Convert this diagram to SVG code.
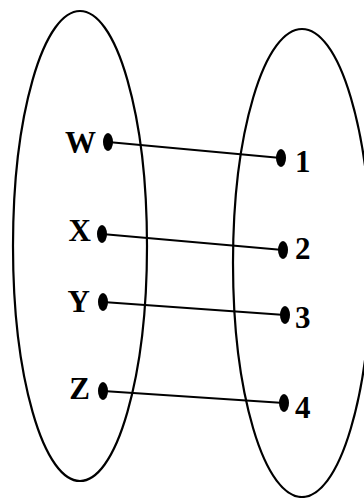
<svg xmlns="http://www.w3.org/2000/svg" width="364" height="498" viewBox="0 0 364 498">
<style>
.set{fill:none;stroke:#000;stroke-width:2.2}
.dot{fill:#000}
.lbl{font-family:"Liberation Serif","Times New Roman",serif;font-weight:bold;font-size:31px;fill:#000}
.edge{stroke:#000;stroke-width:2;fill:none}
</style>
<rect width="364" height="498" fill="#fff"/>
<g id="domain"><ellipse class="set" cx="80" cy="246" rx="67" ry="235"/></g>
<g id="codomain"><ellipse class="set" cx="302" cy="263" rx="69" ry="234"/></g>
<g id="connectors">
<line class="edge" x1="108" y1="142" x2="281" y2="158"/>
<line class="edge" x1="102" y1="234" x2="283" y2="250"/>
<line class="edge" x1="103" y1="302" x2="285" y2="315"/>
<line class="edge" x1="103" y1="391" x2="284" y2="403"/>
</g>
<g id="W"><ellipse class="dot" cx="108" cy="142" rx="5" ry="9"/><text class="lbl" x="96" y="153" text-anchor="end">W</text></g>
<g id="X"><ellipse class="dot" cx="102" cy="234" rx="5" ry="9"/><text class="lbl" x="91" y="241" text-anchor="end">X</text></g>
<g id="Y"><ellipse class="dot" cx="103" cy="302" rx="5" ry="9"/><text class="lbl" x="90" y="312" text-anchor="end">Y</text></g>
<g id="Z"><ellipse class="dot" cx="103" cy="391" rx="5" ry="9"/><text class="lbl" x="90" y="399" text-anchor="end">Z</text></g>
<g id="n1"><ellipse class="dot" cx="281" cy="158" rx="5" ry="9"/><text class="lbl" x="295" y="172">1</text></g>
<g id="n2"><ellipse class="dot" cx="283" cy="250" rx="5" ry="9"/><text class="lbl" x="295" y="259">2</text></g>
<g id="n3"><ellipse class="dot" cx="285" cy="315" rx="5" ry="9"/><text class="lbl" x="295" y="328">3</text></g>
<g id="n4"><ellipse class="dot" cx="284" cy="403" rx="5" ry="9"/><text class="lbl" x="295" y="418">4</text></g>
</svg>
